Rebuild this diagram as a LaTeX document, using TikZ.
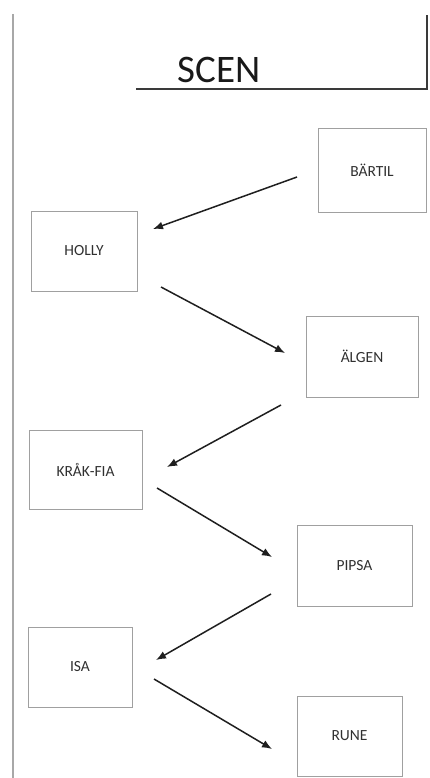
\documentclass[tikz,border=0pt]{standalone}
\usepackage{fontspec}
\setmainfont{Carlito}
\usetikzlibrary{arrows.meta}
\definecolor{boxline}{HTML}{A0A0A0}
\definecolor{boxtext}{HTML}{303030}
\definecolor{rulegray}{HTML}{A8A8A8}
\definecolor{titlerule}{HTML}{3A3A3A}
\tikzset{
  rolebox/.style={draw=boxline, line width=1pt, text=boxtext, font=\fontsize{15.5}{17}\selectfont, inner sep=0pt},
  cue/.style={draw=black!88, line width=1.5pt, -{Latex[length=10pt,width=8pt]}},
}
\begin{document}
\begin{tikzpicture}[x=1pt,y=-1pt]
\useasboundingbox (0,0) rectangle (430,778);
% page margin rule on the left
\draw[rulegray, line width=1.8pt] (13,14) -- (13,778);
% stage header
\draw[titlerule, line width=1.8pt] (136,89) -- (427,89) -- (427,15);
\node[font=\fontsize{39}{42}\selectfont, text=black!90, anchor=base] (scen) at (219,83) {SCEN};
% characters
\node[rolebox, minimum width=108pt, minimum height=83pt] (bartil) at (372,170.5) {BÄRTIL};
\node[rolebox, minimum width=106pt, minimum height=80pt] (holly) at (84,251) {HOLLY};
\node[rolebox, minimum width=112pt, minimum height=81pt] (algen) at (362,356.5) {ÄLGEN};
\node[rolebox, minimum width=113pt, minimum height=79pt] (krakfia) at (85.5,469.5) {KRÅK-FIA};
\node[rolebox, minimum width=115pt, minimum height=81pt] (pipsa) at (354.5,565.5) {PIPSA};
\node[rolebox, minimum width=104pt, minimum height=80pt] (isa) at (80,667) {ISA};
\node[rolebox, minimum width=105pt, minimum height=80pt] (rune) at (349.5,736) {RUNE};
% entry order
\coordinate (c1s) at (297,177);
\coordinate (c1e) at (153,229);
\coordinate (c2s) at (161,287);
\coordinate (c2e) at (285,353);
\coordinate (c3s) at (281,405);
\coordinate (c3e) at (167,467);
\coordinate (c4s) at (157,488);
\coordinate (c4e) at (272,557);
\coordinate (c5s) at (271,594);
\coordinate (c5e) at (156,660);
\coordinate (c6s) at (154,679);
\coordinate (c6e) at (272,749);
\draw[cue] (c1s) -- (c1e);
\draw[cue] (c2s) -- (c2e);
\draw[cue] (c3s) -- (c3e);
\draw[cue] (c4s) -- (c4e);
\draw[cue] (c5s) -- (c5e);
\draw[cue] (c6s) -- (c6e);
\end{tikzpicture}
\end{document}
